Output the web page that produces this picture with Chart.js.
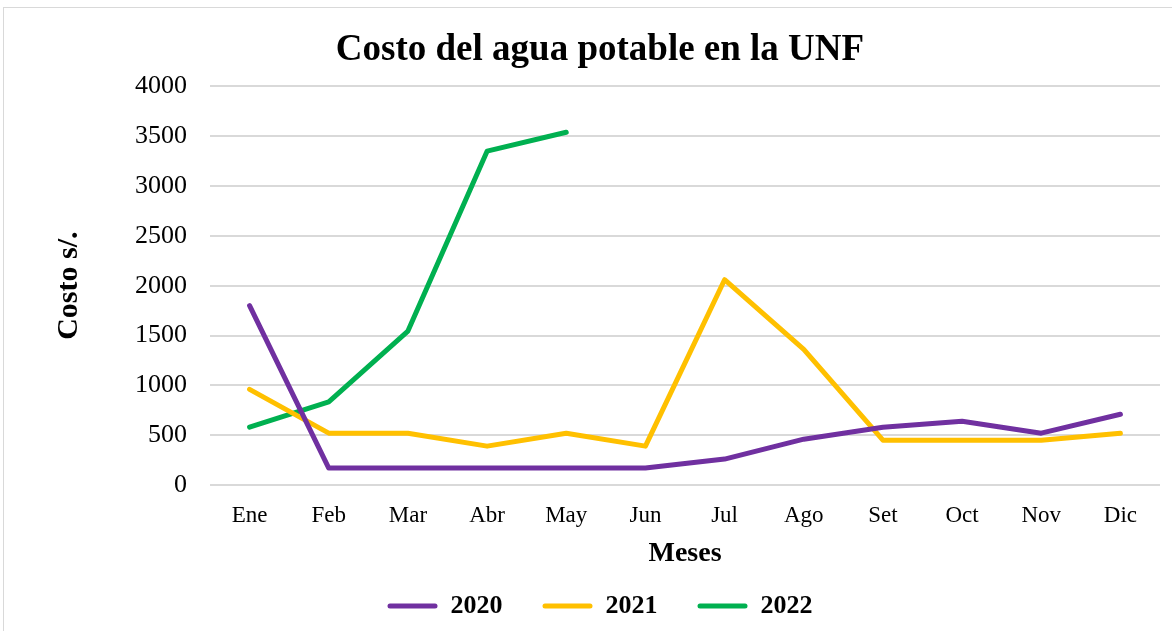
<!DOCTYPE html>
<html>
<head>
<meta charset="utf-8">
<script src="https://cdn.jsdelivr.net/npm/chart.js@4/dist/chart.umd.min.js"></script>
<style>
  html, body { margin: 0; padding: 0; background: #fff; overflow: hidden; }
  #frame {
    position: absolute; left: 3px; top: 7px;
    width: 1400px; height: 800px;
    border: 1.5px solid #d9d9d9;
  }
  #chart { position: absolute; left: 0; top: 0; }
</style>
</head>
<body>
<div id="frame"></div>
<canvas id="chart" width="1172" height="631"></canvas>
<script>
const meses = ["Ene", "Feb", "Mar", "Abr", "May", "Jun", "Jul", "Ago", "Set", "Oct", "Nov", "Dic"];
const costo2020 = [1800, 170, 170, 170, 170, 170, 260, 460, 580, 640, 520, 710];
const costo2021 = [960, 520, 520, 390, 520, 390, 2060, 1360, 450, 450, 450, 520];
const costo2022 = [580, 835, 1545, 3350, 3540];

const serif = "'Liberation Serif', 'Times New Roman', serif";

const serie = (label, data, color) => ({
  label: label,
  data: data,
  borderColor: color,
  backgroundColor: color,
  borderWidth: 5,
  borderCapStyle: "round",
  borderJoinStyle: "round",
  pointRadius: 0,
  tension: 0,
  fill: false,
});

new Chart(document.getElementById("chart"), {
  type: "line",
  data: {
    labels: meses,
    datasets: [
      serie("2020", costo2020, "#7030A0"),
      serie("2021", costo2021, "#FFC000"),
      serie("2022", costo2022, "#00B050"),
    ],
  },
  options: {
    responsive: false,
    animation: false,
    layout: { padding: { left: 40, right: 12, top: 0, bottom: 2 } },
    plugins: {
      tooltip: { enabled: false },
      title: {
        display: true,
        text: "Costo del agua potable en la UNF",
        color: "#000",
        font: { family: serif, size: 37, weight: "bold" },
        padding: { top: 28, bottom: 14 },
      },
      legend: {
        position: "bottom",
        maxHeight: 82,
        labels: {
          color: "#000",
          font: { family: serif, size: 26, weight: "bold" },
          boxWidth: 50,
          boxHeight: 5,
          padding: 40,
          useBorderRadius: true,
          borderRadius: 2.5,
          generateLabels: (chart) =>
            Chart.defaults.plugins.legend.labels
              .generateLabels(chart)
              .map((l) => ({ ...l, lineWidth: 0 })),
        },
      },
    },
    scales: {
      x: {
        offset: true,
        grid: { display: false, offset: true },
        border: { display: false },
        ticks: {
          color: "#000",
          font: { family: serif, size: 23 },
          padding: 9,
          maxRotation: 0,
        },
        title: {
          display: true,
          text: "Meses",
          color: "#000",
          font: { family: serif, size: 28, weight: "bold" },
          padding: { top: 0, bottom: -18 },
        },
        afterFit: (scale) => { scale.height = 68; },
      },
      y: {
        min: 0,
        max: 4000,
        grid: { color: "#d9d9d9", lineWidth: 2, drawTicks: false },
        border: { display: false },
        ticks: {
          stepSize: 500,
          color: "#000",
          font: { family: serif, size: 26 },
          padding: 23,
          callback: (v) => String(v),
        },
        title: {
          display: true,
          text: "Costo s/.",
          color: "#000",
          font: { family: serif, size: 30, weight: "bold" },
          padding: { top: 11, bottom: 0 },
        },
        afterFit: (scale) => { scale.width = 170; },
      },
    },
  },
});
</script>
</body>
</html>
